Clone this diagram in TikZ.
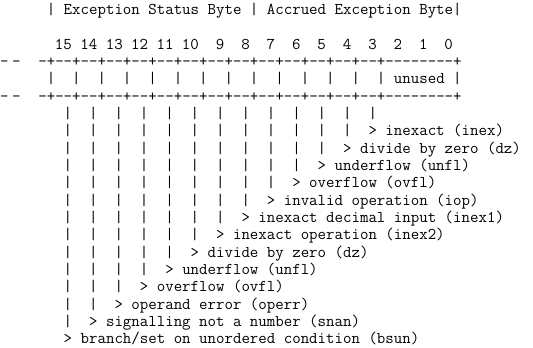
\documentclass[tikz,border=0pt]{standalone}
\newcommand\fpuTT{\ttfamily\fontsize{12.33}{13}\selectfont}
\newlength\cw
\settowidth\cw{\fpuTT 0}
\begin{document}
\begin{tikzpicture}[x = \cw, y = -13pt, font = \fpuTT,
	txt/.style = {anchor = base west, inner sep = 0pt, outer sep = 0pt},
	chr/.style = {anchor = base, inner sep = 0pt, outer sep = 0pt}]
	\useasboundingbox (-6.525pt,8pt) rectangle ++(399.75pt,-261pt);
	
	% header and bit numbers
	\node[txt] (head) at (4.5,0.22) {| Exception Status Byte | Accrued Exception Byte|};
	\foreach \b in {0,...,15}
		\node[anchor = base east, inner sep = 0pt] (bit\b) at ({7.5+3*(15-\b)},2.22) {\b};
	
	% register cells
	\foreach \r in {3,5}{
		\node[txt] (dash\r) at (-1,{\r+0.22}) {-\kern2.5pt-};
		\node[txt] (rule\r) at (3.5,{\r+0.22}) {-+--+--+--+--+--+--+--+--+--+--+--+--+--+--------+};
	}
	\foreach \c in {5,8,...,44}
		\node[chr] (bar\c) at (\c,4.22) {|};
	\node[chr] (bar53) at (53,4.22) {|};
	\node[txt] (unused) at (45.5,4.22) {unused};
	
	% flag lines
	\foreach \k/\lbl in {0/{branch/set on unordered condition (bsun)},
		1/{signalling not a number (snan)}, 2/{operand error (operr)},
		3/{overflow (ovfl)}, 4/{underflow (unfl)}, 5/{divide by zero (dz)},
		6/{inexact operation (inex2)}, 7/{inexact decimal input (inex1)},
		8/{invalid operation (iop)}, 9/{overflow (ovfl)}, 10/{underflow (unfl)},
		11/{divide by zero (dz)}, 12/{inexact (inex)}}{
		\pgfmathtruncatemacro\endl{18-\k}
		\foreach \l in {6,...,\endl}
			\node[chr] (p\k-\l) at ({7+3*\k},{\l+0.22}) {|};
		\node[txt] (lbl\k) at ({7+3*\k-0.5},{19-\k+0.22}) {> \lbl};
	}
\end{tikzpicture}
\end{document}
